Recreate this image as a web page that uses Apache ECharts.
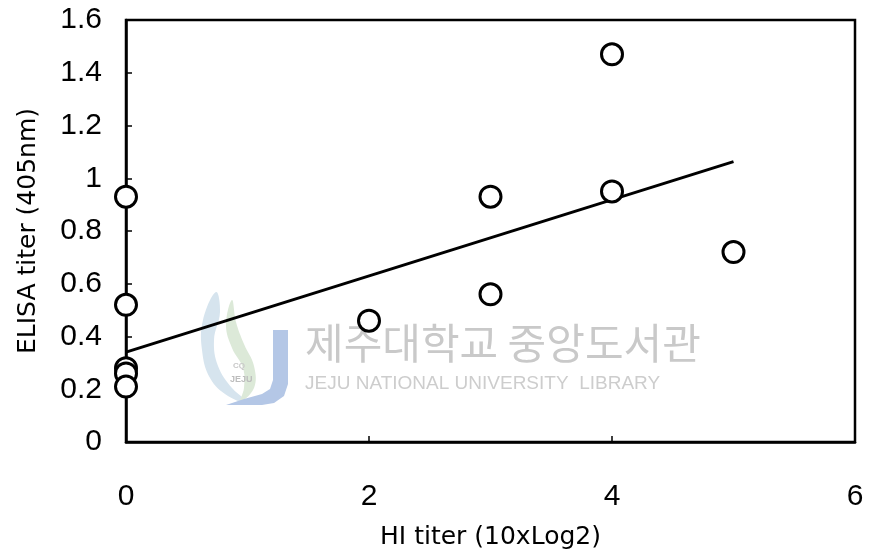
<!DOCTYPE html>
<html><head><meta charset="utf-8">
<script src="https://cdn.jsdelivr.net/npm/echarts@6/dist/echarts.min.js"></script>
<style>html,body{margin:0;padding:0;background:#fff}#c{width:873px;height:555px}</style>
</head><body><div id="c"></div>
<script>
const hiTiter = [0, 0, 0, 0, 0, 2, 3, 3, 4, 4, 5];
const elisaTiter = [0.93, 0.52, 0.28, 0.26, 0.21, 0.46, 0.93, 0.56, 1.47, 0.95, 0.72];
const trendX = [0, 5];
const trendY = [0.341, 1.063];
const xTicks = [0, 2, 4, 6];
const yTicks = [0, 0.2, 0.4, 0.6, 0.8, 1, 1.2, 1.4, 1.6];
const xName = 'HI titer (10xLog2)';
const yName = 'ELISA titer (405nm)';
const wmKo = '제주대학교 중앙도서관';
const wmEn = 'JEJU NATIONAL UNIVERSITY  LIBRARY';

const chart = echarts.init(document.getElementById('c'));
const font = 'Liberation Sans, Arial, sans-serif';
const nameFont = 'DejaVu Sans, sans-serif';
chart.setOption({
  animation: false,
  backgroundColor: '#fff',
  grid: {left: 126, right: 18, top: 20, bottom: 113, containLabel: false, show: true, borderColor: '#000', borderWidth: 2.5, backgroundColor: 'transparent'},
  graphic: [
    {type: 'polygon', z: 0, shape: {smooth: 0.4, points: [[216,292],[203,320],[202,350],[210,378],[228,396],[250,404],[232,388],[218,366],[214,340],[220,312]]}, style: {fill: '#d6e4ee'}},
    {type: 'polygon', z: 0, shape: {smooth: 0.4, points: [[232,300],[226,325],[232,348],[243,368],[244,388],[240,402],[254,388],[254,366],[244,344],[236,322]]}, style: {fill: '#dce9d8'}},
    {type: 'polygon', z: 0, shape: {points: [[273,330],[288,330],[288,384],[284,396],[274,403],[262,405],[226,405],[244,399],[262,394],[270,389],[273,380]]}, style: {fill: '#b4c7e6'}},
    {type: 'text', left: 233, top: 362, z: 0, style: {text: 'CQ', fill: '#c8c8c8', font: 'bold 8px ' + font}},
    {type: 'text', left: 230, top: 375, z: 0, style: {text: 'JEJU', fill: '#bdbdbd', font: 'bold 9px ' + font}},
    {type: 'text', left: 305, top: 322, z: 0, style: {text: wmKo, fill: '#c9c9c9', font: '42px "Noto Sans CJK KR"'}},
    {type: 'text', left: 305, top: 374, z: 0, style: {text: wmEn, fill: '#cdcdcd', font: '19px ' + font}}
  ],
  xAxis: {
    type: 'value', min: 0, max: 6, interval: 2,
    name: xName, nameLocation: 'middle', nameGap: 83,
    nameTextStyle: {fontFamily: nameFont, fontSize: 25, color: '#000'},
    axisLine: {show: true, lineStyle: {color: '#000', width: 2.5}},
    axisTick: {show: true, inside: true, length: 6, lineStyle: {color: '#000', width: 1.5}},
    axisLabel: {margin: 40, fontFamily: font, fontSize: 30, color: '#000', formatter: v => xTicks.includes(v) ? String(v) : ''},
    splitLine: {show: false}
  },
  yAxis: {
    type: 'value', min: 0, max: 1.6, interval: 0.2,
    name: yName, nameLocation: 'middle', nameGap: 85, nameRotate: 90,
    nameTextStyle: {fontFamily: nameFont, fontSize: 25, color: '#000'},
    axisLine: {show: true, lineStyle: {color: '#000', width: 2.5}},
    axisTick: {show: true, inside: true, length: 6, lineStyle: {color: '#000', width: 1.5}},
    axisLabel: {margin: 24, fontFamily: font, fontSize: 30, color: '#000',
      formatter: v => { const t = yTicks.find(k => Math.abs(k - v) < 1e-6); return t === undefined ? '' : String(t); }},
    splitLine: {show: false}
  },
  series: [
    {type: 'line', data: trendX.map((x, i) => [x, trendY[i]]), symbol: 'none', z: 3,
     lineStyle: {color: '#000', width: 3}},
    {type: 'scatter', data: hiTiter.map((x, i) => [x, elisaTiter[i]]), symbol: 'circle', symbolSize: 21, z: 4,
     itemStyle: {color: '#fff', borderColor: '#000', borderWidth: 3, opacity: 1}}
  ]
});
</script></body></html>
